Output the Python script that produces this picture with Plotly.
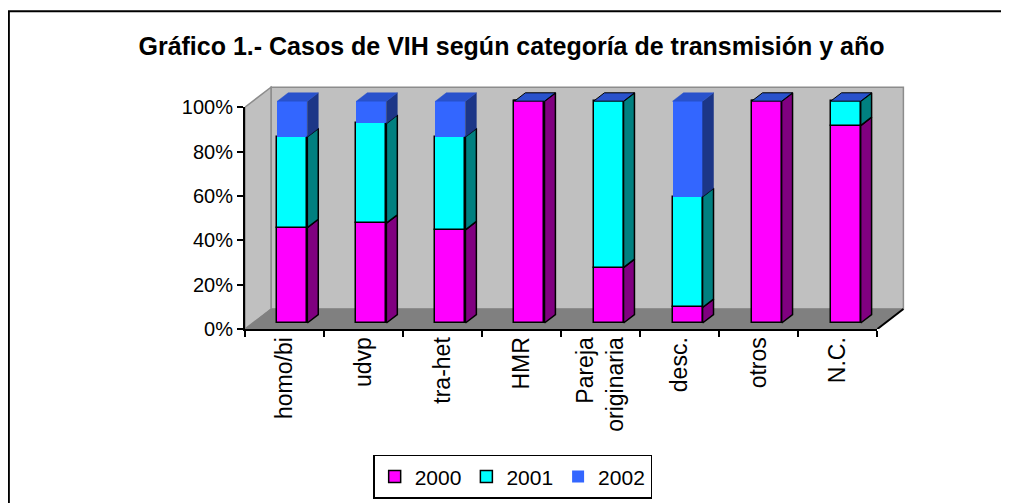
import plotly.graph_objects as go

# ---------------- data ----------------
CATEGORIES = ['homo/bi', 'udvp', 'tra-het', 'HMR', 'Pareja<br>originaria',
              'desc.', 'otros', 'N.C.']
YEARS = ['2000', '2001', '2002']
V2000 = [43, 45, 42, 100, 25, 7, 100, 89]
V2001 = [41, 45, 42, 0, 75, 50, 0, 11]
V2002 = [16, 10, 16, 0, 0, 43, 0, 0]
Y_TICKS = [0, 20, 40, 60, 80, 100]
Y_TICK_LABELS = ['0%', '20%', '40%', '60%', '80%', '100%']

SERIES = [V2000, V2001, V2002]

# ---------------- styles ----------------
FONT = 'Liberation Sans, Arial, sans-serif'
FRONT = ['#FF00FF', '#00FFFF', '#3366FF']
SIDE = ['#800080', '#008080', '#1C3687']
TOP = '#2952CC'
EDGE_W = [1.5, 1.5, 0]
WALL = '#C0C0C0'
FLOOR = '#808080'
WALL_EDGE = '#8C8C8C'

# ---------------- geometry ----------------
OFF = 8                     # page body margin
N = len(CATEGORIES)
X_EXTRA = 0.4
Y_MAX = 110
DX, DY = 0.329, 9.0
SHIFT_F, DEPTH_F = 0.30, 0.42
BAR_W = 0.38
PX_X, PX_Y = 79.0, 2.22
LEFT, BOTTOM = 245.0 - OFF, 329.0 - OFF
W, H = 1009 - OFF, 503 - OFF
plot_w = PX_X * (N + X_EXTRA)
plot_h = PX_Y * Y_MAX

sx, sy = SHIFT_F * DX, SHIFT_F * DY
ddx, ddy = DEPTH_F * DX, DEPTH_F * DY
centers = [i + 0.5 + sx for i in range(N)]

fig = go.Figure()

cum = [0.0] * N
for k, vals in enumerate(SERIES):
    bases = [c + sy for c in cum]
    fig.add_trace(go.Bar(
        x=centers, y=vals, base=bases, width=BAR_W, name=YEARS[k],
        marker=dict(color=FRONT[k], line=dict(color='black', width=EDGE_W[k])),
        xaxis='x', yaxis='y', hoverinfo='skip'))
    xs, ys = [], []
    for i in range(N):
        if vals[i] <= 0:
            continue
        xr = centers[i] + BAR_W / 2
        b0 = cum[i] + sy
        b1 = cum[i] + vals[i] + sy
        xs += [xr, xr + ddx, xr + ddx, xr, xr, None]
        ys += [b0, b0 + ddy, b1 + ddy, b1, b0, None]
    fig.add_trace(go.Scatter(
        x=xs, y=ys, mode='lines', fill='toself', fillcolor=SIDE[k],
        line=dict(color='black' if EDGE_W[k] else SIDE[k],
                  width=EDGE_W[k] if EDGE_W[k] else 0.5),
        showlegend=False, hoverinfo='skip', xaxis='x', yaxis='y'))
    cum = [cum[i] + vals[i] for i in range(N)]

for outlined in (True, False):
    xs, ys = [], []
    for i in range(N):
        if (V2002[i] == 0) != outlined:
            continue
        xl = centers[i] - BAR_W / 2
        xr = centers[i] + BAR_W / 2
        t = cum[i] + sy
        xs += [xl, xr, xr + ddx, xl + ddx, xl, None]
        ys += [t, t, t + ddy, t + ddy, t, None]
    if xs:
        fig.add_trace(go.Scatter(
            x=xs, y=ys, mode='lines', fill='toself', fillcolor=TOP,
            line=dict(color='black' if outlined else TOP, width=1 if outlined else 0.5),
            showlegend=False, hoverinfo='skip', xaxis='x', yaxis='y'))

fig.add_trace(go.Scatter(x=[0], y=[0], xaxis='x2', yaxis='y2', mode='markers',
                         marker=dict(opacity=0), showlegend=False, hoverinfo='skip'))

shapes = [
    dict(type='path', xref='x', yref='y', layer='below',
         path=f'M {DX},{DY} L {N + DX},{DY} L {N + DX},{100 + DY} L {DX},{100 + DY} Z',
         fillcolor=WALL, line=dict(color=WALL_EDGE, width=1.5)),
    dict(type='path', xref='x', yref='y', layer='below',
         path=f'M 0,0 L {DX},{DY} L {DX},{100 + DY} L 0,100 Z',
         fillcolor=WALL, line=dict(color=WALL_EDGE, width=1.5)),
    dict(type='path', xref='x', yref='y', layer='below',
         path=f'M 0,0 L {N},0 L {N + DX},{DY} L {DX},{DY} Z',
         fillcolor=FLOOR, line=dict(color=FLOOR, width=1)),
    dict(type='line', xref='x', yref='y', layer='below',
         x0=N, y0=0, x1=N + DX, y1=DY, line=dict(color='black', width=2)),
    dict(type='rect', xref='paper', yref='paper', layer='below',
         x0=(9 - OFF - LEFT) / plot_w, x1=1.5, y0=-1.2,
         y1=(BOTTOM - (11 - OFF)) / plot_h,
         line=dict(color='black', width=2), fillcolor='rgba(0,0,0,0)'),
]

fig.update_layout(
    width=W, height=H,
    margin=dict(l=LEFT, r=W - LEFT - plot_w, t=BOTTOM - plot_h, b=H - BOTTOM,
                autoexpand=False),
    paper_bgcolor='white', plot_bgcolor='rgba(0,0,0,0)',
    barmode='overlay', bargap=0,
    font=dict(family=FONT, color='black', size=21),
    title=dict(text='<b>Gráfico 1.- Casos de VIH según categoría de transmisión y año</b>',
               font=dict(family=FONT, size=25, color='black'),
               x=(511.5 - OFF) / W, xref='container', xanchor='center',
               y=1 - 38 / H, yref='container', yanchor='middle'),
    xaxis=dict(domain=[0, 1], range=[0, N + X_EXTRA], visible=False, fixedrange=True),
    yaxis=dict(domain=[0, 1], range=[0, Y_MAX], visible=False, fixedrange=True),
    xaxis2=dict(domain=[0, N / (N + X_EXTRA)], range=[0, N], anchor='y2',
                tickmode='array', tickvals=[i + 0.5 for i in range(N)],
                ticktext=CATEGORIES, tickangle=-90, ticks='',
                tickfont=dict(size=23), ticklabelstandoff=-3,
                minor=dict(tickmode='array', tickvals=list(range(N + 1)),
                           ticks='outside', ticklen=6, tickcolor='black', tickwidth=1.5,
                           showgrid=False),
                showline=True, linecolor='black', linewidth=2,
                showgrid=False, zeroline=False, fixedrange=True),
    yaxis2=dict(domain=[0, 100 / Y_MAX], range=[0, 100], anchor='x2',
                tickmode='array', tickvals=Y_TICKS, ticktext=Y_TICK_LABELS,
                ticks='outside', ticklen=6, tickcolor='black', tickwidth=1.5,
                tickfont=dict(size=20), ticklabelstandoff=0,
                showline=True, linecolor='black', linewidth=2,
                showgrid=False, zeroline=False, fixedrange=True),
    legend=dict(orientation='h', xanchor='center', yanchor='top',
                x=(512.5 - OFF - LEFT) / plot_w, y=(BOTTOM - 447) / plot_h,
                font=dict(size=21), bordercolor='black', borderwidth=1.5,
                bgcolor='white', traceorder='normal', itemwidth=30),
    shapes=shapes,
    showlegend=True,
)

fig.write_html('out.html')
